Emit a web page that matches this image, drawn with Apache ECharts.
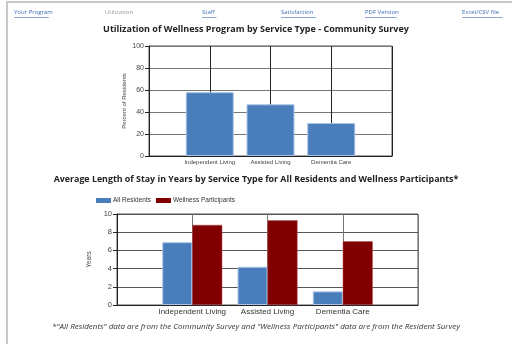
<!DOCTYPE html>
<html>
<head>
<meta charset="utf-8">
<script src="https://cdn.jsdelivr.net/npm/echarts@6/dist/echarts.min.js"></script>
<style>
  html, body { margin: 0; padding: 0; background: #fff; }
  #chart { width: 512px; height: 344px; }
</style>
</head>
<body>
<div id="chart"></div>
<script>
// data
var serviceTypes = ['Independent Living', 'Assisted Living', 'Dementia Care'];
var utilization = [58, 47, 30];
var allResidents = [6.9, 4.2, 1.5];
var wellnessParticipants = [8.8, 9.3, 7.0];
var navLinks = ['Your Program', 'Utilization', 'Staff', 'Satisfaction', 'PDF Version', 'Excel/CSV file'];
var navX = [14, 105, 202, 281, 365, 462];

// empty slot on each side so the categories sit on the inner grid lines
function pad(arr, empty) {
  return [empty].concat(arr, [empty]);
}

var myChart = echarts.init(document.getElementById('chart'));

var graphics = [{
  type: 'rect',
  shape: { x: 7, y: 2, width: 520, height: 360 },
  style: { fill: 'none', stroke: '#c8c8c8', lineWidth: 2 },
  silent: true
}];
navLinks.forEach(function(t, i) {
  var isCurrent = t === 'Utilization';
  graphics.push({
    type: 'text', left: navX[i], top: 9,
    style: { text: t, fill: isCurrent ? '#999' : '#3b6fb6', font: '6px "Open Sans"' }
  });
  if(!isCurrent) {
    graphics.push({
      type: 'line',
      shape: { x1: navX[i], y1: 17.5, x2: navX[i] + t.length * 2.9, y2: 17.5 },
      style: { stroke: '#3b6fb6', lineWidth: 0.6 }
    });
  }
});
graphics.push({
  type: 'text', left: 'center', top: 323,
  style: {
    text: '*"All Residents" data are from the Community Survey and "Wellness Participants" data are from the Resident Survey',
    fill: '#333', font: 'italic 8px "Open Sans"'
  }
});

var option = {
  animation: false,
  textStyle: { fontFamily: 'Liberation Sans' },
  title: [{
    text: 'Utilization of Wellness Program by Service Type - Community Survey',
    left: 'center', top: 20,
    textStyle: { fontSize: 9, fontWeight: 'bold', color: '#222', fontFamily: 'Open Sans' }
  }, {
    text: 'Average Length of Stay in Years by Service Type for All Residents and Wellness Participants*',
    left: 'center', top: 170,
    textStyle: { fontSize: 8.85, fontWeight: 'bold', color: '#222', fontFamily: 'Open Sans' }
  }],
  legend: {
    top: 192, left: 91,
    icon: 'rect',
    itemWidth: 15, itemHeight: 5, itemGap: 5,
    itemStyle: { borderWidth: 0 },
    textStyle: { fontSize: 6.5, color: '#333', padding: [0, 0, 0, -3] },
    data: ['All Residents', 'Wellness Participants']
  },
  grid: [
    { left: 149, top: 46, width: 243, height: 110, show: true, borderColor: '#555', borderWidth: 1 },
    { left: 117, top: 214, width: 301, height: 91, show: true, borderColor: '#555', borderWidth: 1 }
  ],
  xAxis: [{
    gridIndex: 0, type: 'category', boundaryGap: false,
    data: pad(serviceTypes, ''),
    axisLine: { lineStyle: { color: '#222' } },
    axisTick: { show: false },
    axisLabel: { color: '#444', fontSize: 6, interval: 0, margin: 3 },
    splitLine: { show: true, interval: 0, lineStyle: { color: '#222' } }
  }, {
    gridIndex: 1, type: 'category', boundaryGap: false,
    data: pad(serviceTypes, ''),
    axisLine: { lineStyle: { color: '#222' } },
    axisTick: { show: false },
    axisLabel: { color: '#333', fontSize: 8, interval: 0, margin: 3 },
    splitLine: { show: true, interval: 0, lineStyle: { color: '#777' } }
  }],
  yAxis: [{
    gridIndex: 0, type: 'value', min: 0, max: 100, interval: 20,
    name: 'Percent of Residents', nameLocation: 'middle', nameGap: 22,
    nameTextStyle: { fontSize: 6, color: '#444' },
    axisLine: { show: true, lineStyle: { color: '#222' } },
    axisTick: { show: true, length: 4, lineStyle: { color: '#222' } },
    axisLabel: { color: '#444', fontSize: 7, margin: 5 },
    splitLine: { lineStyle: { color: '#777' } }
  }, {
    gridIndex: 1, type: 'value', min: 0, max: 10, interval: 2,
    name: 'Years', nameLocation: 'middle', nameGap: 22,
    nameTextStyle: { fontSize: 6.5, color: '#444' },
    axisLine: { show: true, lineStyle: { color: '#222' } },
    axisTick: { show: true, length: 4, lineStyle: { color: '#222' } },
    axisLabel: { color: '#444', fontSize: 7.5, margin: 5 },
    splitLine: { lineStyle: { color: '#555' } }
  }],
  series: [{
    name: 'Utilization', type: 'bar', xAxisIndex: 0, yAxisIndex: 0,
    data: pad(utilization, '-'), barWidth: 48,
    itemStyle: { color: '#4a7ebb', borderColor: '#a9c4e4', borderWidth: 1 }
  }, {
    name: 'All Residents', type: 'bar', xAxisIndex: 1, yAxisIndex: 1,
    data: pad(allResidents, '-'), barWidth: 30, barGap: '0%',
    itemStyle: { color: '#4a7ebb', borderColor: '#a9c4e4', borderWidth: 1 }
  }, {
    name: 'Wellness Participants', type: 'bar', xAxisIndex: 1, yAxisIndex: 1,
    data: pad(wellnessParticipants, '-'), barWidth: 30, barGap: '0%',
    itemStyle: { color: '#800000', borderColor: '#b05050', borderWidth: 0.5 }
  }],
  graphic: graphics
};
myChart.setOption(option);
</script>
</body>
</html>
